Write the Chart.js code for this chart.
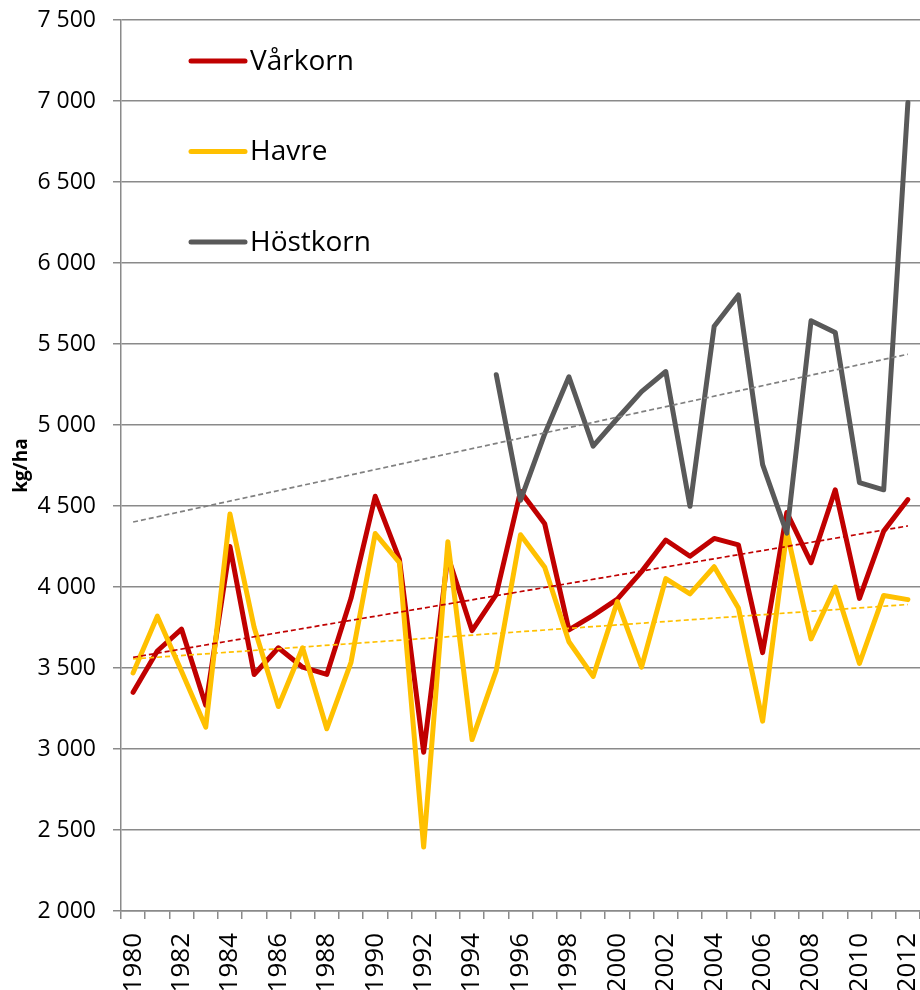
<!DOCTYPE html>
<html>
<head>
<meta charset="utf-8">
<script src="https://cdn.jsdelivr.net/npm/chart.js@4.4.1/dist/chart.umd.min.js"></script>
<style>
  html, body { margin: 0; padding: 0; background: #fff; }
  #wrap { width: 920px; height: 990px; }
</style>
</head>
<body>
<div id="wrap"><canvas id="chart" width="920" height="990"></canvas></div>
<script>
const years = ['1980','1981','1982','1983','1984','1985','1986','1987','1988','1989',
               '1990','1991','1992','1993','1994','1995','1996','1997','1998','1999',
               '2000','2001','2002','2003','2004','2005','2006','2007','2008','2009',
               '2010','2011','2012'];

const varkorn = [3350, 3605, 3740, 3270, 4250, 3460, 3625, 3505, 3460, 3930,
                 4560, 4170, 2980, 4190, 3730, 3955, 4590, 4390, 3735, 3825,
                 3925, 4095, 4290, 4190, 4300, 4260, 3595, 4460, 4150, 4600,
                 3930, 4345, 4540];

const havre = [3470, 3820, 3480, 3135, 4450, 3750, 3262, 3625, 3125, 3535,
               4330, 4150, 2395, 4280, 3058, 3485, 4322, 4122, 3662, 3448,
               3910, 3505, 4052, 3958, 4125, 3870, 3172, 4340, 3680, 4000,
               3528, 3948, 3922];

const hostkorn = [null, null, null, null, null, null, null, null, null, null,
                  null, null, null, null, null, 5310, 4535, 4945, 5298, 4870,
                  5040, 5206, 5330, 4498, 5610, 5803, 4755, 4332, 5643, 5571,
                  4644, 4600, 6990];

// trendlines: value at first and last year
const trendVarkorn = [3566, 4377];
const trendHavre = [3556, 3892];
const trendHostkorn = [4401, 5437];

const yTicks = { min: 2000, max: 7500, step: 500 };

const font = '"Open Sans", "Noto Sans", sans-serif';
const gridGray = '#8a8a8a';

function trend(ends) {
  return [{ x: years[0], y: ends[0] }, { x: years[years.length - 1], y: ends[1] }];
}

const legendPlugin = {
  id: 'insideLegend',
  afterDatasetsDraw(chart) {
    const { ctx, chartArea } = chart;
    const items = chart.data.datasets.filter(d => !d.isTrend);
    ctx.save();
    ctx.font = '28px ' + font;
    ctx.textBaseline = 'middle';
    ctx.textAlign = 'left';
    items.forEach((d, i) => {
      const y = chartArea.top + 41 + i * 90.5;
      const x = chartArea.left + 70;
      ctx.strokeStyle = d.borderColor;
      ctx.lineWidth = 5;
      ctx.lineCap = 'round';
      ctx.beginPath();
      ctx.moveTo(x, y);
      ctx.lineTo(x + 54, y);
      ctx.stroke();
      ctx.fillStyle = '#000';
      ctx.fillText(d.label, x + 59, y + 1);
    });
    ctx.restore();
  }
};

const lineStyle = {
  borderWidth: 5,
  pointRadius: 0,
  pointHoverRadius: 0,
  borderJoinStyle: 'round',
  borderCapStyle: 'round',
  tension: 0,
  fill: false
};

const trendStyle = {
  isTrend: true,
  borderWidth: 1.7,
  borderDash: [5, 3],
  pointRadius: 0,
  pointHoverRadius: 0,
  tension: 0,
  fill: false,
  order: 0
};

const ctx = document.getElementById('chart').getContext('2d');
const chart = new Chart(ctx, {
  type: 'line',
  data: {
    labels: years,
    datasets: [
      { label: 'Vårkorn', data: varkorn, borderColor: '#C00000', ...lineStyle, order: 3 },
      { label: 'Havre', data: havre, borderColor: '#FFC000', ...lineStyle, order: 2 },
      { label: 'Höstkorn', data: hostkorn, borderColor: '#595959', ...lineStyle, order: 1, spanGaps: false },
      { label: 'trend Vårkorn', data: trend(trendVarkorn), borderColor: '#C00000', ...trendStyle },
      { label: 'trend Havre', data: trend(trendHavre), borderColor: '#FFC000', ...trendStyle },
      { label: 'trend Höstkorn', data: trend(trendHostkorn), borderColor: '#808080', ...trendStyle }
    ]
  },
  options: {
    responsive: false,
    animation: false,
    devicePixelRatio: 1,
    layout: { padding: { top: 20, right: 0, bottom: 0, left: 0 } },
    plugins: {
      legend: { display: false },
      tooltip: { enabled: false }
    },
    scales: {
      x: {
        type: 'category',
        offset: true,
        afterFit: s => { s.height = 79; s.paddingLeft = 0; s.paddingRight = 0; },
        grid: {
          offset: true,
          drawOnChartArea: false,
          drawTicks: true,
          tickLength: 8,
          color: gridGray,
          lineWidth: 1.5
        },
        border: { display: true, color: gridGray, width: 1.5 },
        ticks: {
          autoSkip: false,
          minRotation: 90,
          maxRotation: 90,
          padding: 14,
          color: '#000',
          font: { family: font, size: 26 },
          callback: function (v, i) { return i % 2 === 0 ? this.getLabelForValue(v) : ''; }
        }
      },
      y: {
        min: yTicks.min,
        max: yTicks.max,
        afterFit: s => { s.width = 121; s.paddingTop = 0; s.paddingBottom = 0; },
        grid: {
          color: gridGray,
          lineWidth: 1.5,
          drawTicks: true,
          tickLength: 8
        },
        border: { display: true, color: gridGray, width: 1.5 },
        ticks: {
          stepSize: yTicks.step,
          padding: 17,
          color: '#000',
          font: { family: font, size: 23 },
          callback: v => String(v).replace(/\B(?=(\d{3})+(?!\d))/g, ' ')
        },
        title: {
          display: true,
          text: 'kg/ha',
          color: '#000',
          font: { family: font, size: 19, weight: 'bold' },
          padding: { top: 10, bottom: 0 }
        }
      }
    }
  },
  plugins: [legendPlugin]
});
</script>
</body>
</html>
